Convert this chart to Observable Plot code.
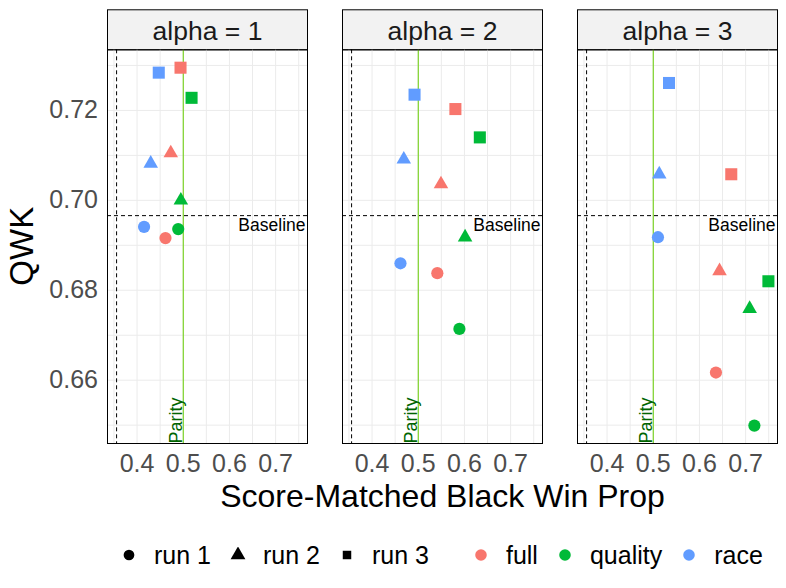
<!DOCTYPE html>
<html>
<head>
<meta charset="utf-8">
<script src="https://cdn.jsdelivr.net/npm/d3@7"></script>
<script src="https://cdn.jsdelivr.net/npm/@observablehq/plot@0.6"></script>
<style>
  body { margin: 0; background: #fff; font-family: "Liberation Sans", Arial, sans-serif; }
  #chart svg { display: block; }
  #legend { display: flex; align-items: center; height: 50px; padding-left: 121px; font-size: 25px; color: #000; white-space: nowrap; }
  #legend > * { flex-shrink: 0; }
  #legend .key { display: block; }
  #legend .lab { margin-left: 17px; margin-right: 19px; }
  #legend .gap { width: 25px; }
</style>
</head>
<body>
<div id="chart"></div>
<div id="legend"></div>
<script>
// Facets, groups and runs
const alphas = [1, 2, 3];
const groups = ["full", "quality", "race"];
const runs = ["run 1", "run 2", "run 3"];

// Values per alpha, ordered: full run 1..3, quality run 1..3, race run 1..3
const winPropAlpha1 = [0.4615, 0.4730, 0.4941, 0.4891, 0.4948, 0.5180, 0.4152, 0.4296, 0.4470];
const qwkAlpha1     = [0.6916, 0.7105, 0.7295, 0.6936, 0.7000, 0.7228, 0.6941, 0.7082, 0.7284];
const winPropAlpha2 = [0.5413, 0.5492, 0.5804, 0.5891, 0.6014, 0.6333, 0.4615, 0.4687, 0.4920];
const qwkAlpha2     = [0.6838, 0.7036, 0.7203, 0.6714, 0.6918, 0.7140, 0.6860, 0.7091, 0.7235];
const winPropAlpha3 = [0.6357, 0.6435, 0.6689, 0.7189, 0.7087, 0.7493, 0.5102, 0.5130, 0.5341];
const qwkAlpha3     = [0.6617, 0.6843, 0.7058, 0.6499, 0.6759, 0.6820, 0.6918, 0.7058, 0.7261];

// Reference values
const baselineQwk = 0.6966;
const baselineWinProp = 0.3557;
const parity = 0.5;

// Axis ticks
const xTicks = [0.4, 0.5, 0.6, 0.7];
const xMinor = [0.35, 0.45, 0.55, 0.65, 0.75];
const yTicks = [0.66, 0.68, 0.70, 0.72];
const yMinor = [0.65, 0.67, 0.69, 0.71, 0.73];

const groupColors = ["#F8766D", "#00BA38", "#619CFF"];
const runSymbols = ["circle", "triangle", "square"];
const runRadius = [6.1, 5.4, 6.8];

const series = [[winPropAlpha1, qwkAlpha1], [winPropAlpha2, qwkAlpha2], [winPropAlpha3, qwkAlpha3]];
const rows = alphas.flatMap((alpha, a) =>
  groups.flatMap((group, g) =>
    runs.map((run, r) => ({
      alpha, group, run,
      winProp: series[a][0][g * 3 + r],
      qwk: series[a][1][g * 3 + r]
    }))
  )
);

// Continuous domains padded by 5% on each side
function padded(values) {
  const [lo, hi] = d3.extent(values);
  const pad = (hi - lo) * 0.05;
  return [lo - pad, hi + pad];
}
const xDomain = padded([...rows.map(d => d.winProp), baselineWinProp]);
const yDomain = padded([...rows.map(d => d.qwk), baselineQwk]);

const W = 786, H = 530;
const mTop = 49.3, mBottom = 87, mLeft = 106.3, mRight = 8.7;
const panelH = H - mTop - mBottom;
const font = '"Liberation Sans", Arial, sans-serif';
const grid = {stroke: "#EBEBEB", strokeOpacity: 1, strokeWidth: 1};
const dashed = {stroke: "black", strokeWidth: 1, strokeDasharray: "4,3"};

const chart = Plot.plot({
  width: W,
  height: H,
  marginTop: mTop,
  marginBottom: mBottom,
  marginLeft: mLeft,
  marginRight: mRight,
  style: {fontFamily: font, background: "white", overflow: "visible"},
  fx: {domain: alphas, paddingInner: 0.1507, paddingOuter: 0, round: true, axis: null},
  x: {domain: xDomain},
  y: {domain: yDomain},
  color: {domain: groups, range: groupColors},
  marks: [
    // facet strip
    Plot.frame({fill: "#F2F2F2", stroke: "black", strokeWidth: 1, insetTop: -40, insetBottom: panelH}),
    Plot.text(alphas, {fx: d => d, text: d => `alpha = ${d}`, frameAnchor: "top", lineAnchor: "middle", dy: -18.5, fontSize: 26.5, fill: "#1A1A1A"}),
    // grid
    Plot.gridX(xMinor, grid),
    Plot.gridY(yMinor, grid),
    Plot.gridX(xTicks, grid),
    Plot.gridY(yTicks, grid),
    // reference lines
    Plot.ruleX([parity], {x: d => d, stroke: "#66CD00", strokeWidth: 1}),
    Plot.ruleX([baselineWinProp], {x: d => d, ...dashed}),
    Plot.ruleY([baselineQwk], {y: d => d, ...dashed}),
    Plot.text([parity], {x: d => d, frameAnchor: "bottom", text: () => "Parity", rotate: -90, textAnchor: "start", lineAnchor: "bottom", dx: -1.5, fontSize: 18, fill: "#006400"}),
    Plot.text([baselineQwk], {y: d => d, frameAnchor: "right", text: () => "Baseline", textAnchor: "end", lineAnchor: "top", dx: -2, dy: 2.5, fontSize: 17.5, fill: "black"}),
    // points, one mark per run
    ...runs.map((run, i) => Plot.dot(rows.filter(d => d.run === run), {
      x: "winProp", y: "qwk", fx: "alpha", fill: "group",
      symbol: runSymbols[i], r: runRadius[i]
    })),
    // panel border
    Plot.frame({stroke: "black", strokeWidth: 1}),
    // axes
    Plot.axisX({ticks: xTicks, tickFormat: d3.format(".1f"), tickSize: 0, tickPadding: 11, fontSize: 25, fill: "#4D4D4D", label: null}),
    Plot.axisY({ticks: yTicks, tickFormat: d3.format(".2f"), tickSize: 0, tickPadding: 9.5, fontSize: 25, fill: "#4D4D4D", label: null}),
    // axis titles
    Plot.text(["Score-Matched Black Win Prop"], {text: d => d, frameAnchor: "bottom", facet: "super", lineAnchor: "bottom", dy: 63.7, fontSize: 32, fill: "black"}),
    Plot.text(["QWK"], {text: d => d, frameAnchor: "left", facet: "super", rotate: -90, lineAnchor: "middle", dx: -85, dy: 39, fontSize: 33, fill: "black"})
  ]
});
document.getElementById("chart").append(chart);

// Legend: run shapes, then group colours
const legend = d3.select("#legend");
const legendShapeSize = [90, 95, 72];
function addKey(symbolName, area, color) {
  const s = 16;
  const svg = legend.append("svg").attr("class", "key").attr("width", s).attr("height", s);
  const sym = {circle: d3.symbolCircle, triangle: d3.symbolTriangle, square: d3.symbolSquare}[symbolName];
  svg.append("path")
    .attr("transform", `translate(${s / 2},${s / 2})`)
    .attr("d", d3.symbol(sym, area)())
    .attr("fill", color);
}
runs.forEach((run, i) => {
  addKey(runSymbols[i], legendShapeSize[i], "black");
  legend.append("span").attr("class", "lab").text(run);
});
legend.append("div").attr("class", "gap");
groups.forEach((group, i) => {
  addKey("circle", 105, groupColors[i]);
  legend.append("span").attr("class", "lab").text(group);
});
</script>
</body>
</html>
